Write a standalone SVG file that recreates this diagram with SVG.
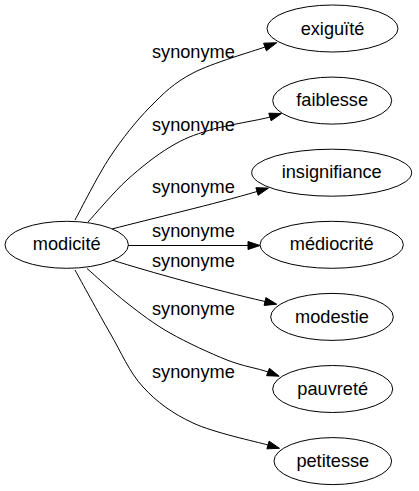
<svg xmlns="http://www.w3.org/2000/svg" width="419" height="491" viewBox="0 0 419 491">
<style>
.node ellipse{fill:#ffffff;stroke:#000000;stroke-width:1}
.node text,.lbl{font-family:"Liberation Sans",Arial,sans-serif;font-size:18.2px;fill:#000000;text-anchor:middle}
.edge path{fill:none;stroke:#000000;stroke-width:1}
.edge polygon{fill:#000000;stroke:#000000;stroke-width:1}
</style>
<rect width="419" height="491" fill="#ffffff"/>
<g id="connectors">
<g class="edge" id="e1">
<path d="M75,220 C80.8,209.5 97.5,175.8 110,157 C122.5,138.2 136.2,121 150,107 C163.8,93 173.8,83 193,73 C212.2,63 253,51.3 265,47"/>
<polygon points="266.4,50.8 276.8,42.7 263.6,43.2"/>
<text class="lbl" x="193.4" y="58.3">synonyme</text>
</g>
<g class="edge" id="e2">
<path d="M88,222 C94.5,215 113.3,192.5 127,180 C140.7,167.5 156.2,155.3 170,147 C183.8,138.7 193.3,135 210,130 C226.7,125 260,120 270,117"/>
<polygon points="271.1,120.8 281.5,113.5 268.8,113.2"/>
<text class="lbl" x="193.4" y="130.5">synonyme</text>
</g>
<g class="edge" id="e3">
<path d="M112,229 C150,219 215,204 257,191.5"/>
<polygon points="258.1,195.3 268.5,188.1 255.9,187.7"/>
<text class="lbl" x="193.4" y="193.3">synonyme</text>
</g>
<g class="edge" id="e4">
<path d="M128,245.5 L248,245.5"/>
<polygon points="248,241.5 260,245.5 248,249.5"/>
<text class="lbl" x="193.4" y="237">synonyme</text>
</g>
<g class="edge" id="e5">
<path d="M112,260 C150,272 215,290 265,301.5"/>
<polygon points="264.1,305.4 276.7,304.2 265.9,297.6"/>
<text class="lbl" x="193.4" y="266.7">synonyme</text>
</g>
<g class="edge" id="e6">
<path d="M87,268.5 C93.7,274.3 113.2,292.3 127,303 C140.8,313.75 153.3,323.5 170,333 C186.7,342.5 210.7,353.5 227,360 C243.3,366.5 258,368.25 268,372"/>
<polygon points="266.6,375.7 279.2,376.2 269.4,368.3"/>
<text class="lbl" x="193.4" y="315">synonyme</text>
</g>
<g class="edge" id="e7">
<path d="M75,270 C80.8,280.5 98.7,313.5 110,333 C121.3,352.5 129.2,372 143,387 C156.8,402 172.2,413.3 193,423 C213.8,432.7 256,441.6 268,445"/>
<polygon points="266.9,448.85 279.5,448.3 269.1,441.15"/>
<text class="lbl" x="193.4" y="378.3">synonyme</text>
</g>
</g>
<g class="node" id="n-modicite"><ellipse cx="66.7" cy="244.8" rx="61.7" ry="23.5"/><text x="66.7" y="250.3">modicité</text></g>
<g class="node" id="n-exiguite"><ellipse cx="332.5" cy="28.5" rx="65.5" ry="23.5"/><text x="332.5" y="34.5">exiguïté</text></g>
<g class="node" id="n-faiblesse"><ellipse cx="332.2" cy="100.6" rx="59.5" ry="23.5"/><text x="332.2" y="106.3">faiblesse</text></g>
<g class="node" id="n-insignifiance"><ellipse cx="331.7" cy="172.7" rx="80" ry="23.5"/><text x="331.7" y="178.4">insignifiance</text></g>
<g class="node" id="n-mediocrite"><ellipse cx="331.7" cy="244.8" rx="71.7" ry="23.5"/><text x="331.7" y="250.3">médiocrité</text></g>
<g class="node" id="n-modestie"><ellipse cx="332" cy="316.9" rx="61.3" ry="23.5"/><text x="332" y="322.6">modestie</text></g>
<g class="node" id="n-pauvrete"><ellipse cx="332.7" cy="389" rx="60" ry="23.5"/><text x="332.7" y="394.7">pauvreté</text></g>
<g class="node" id="n-petitesse"><ellipse cx="332.8" cy="461.1" rx="58.8" ry="23.5"/><text x="332.8" y="466.8">petitesse</text></g>
</svg>
